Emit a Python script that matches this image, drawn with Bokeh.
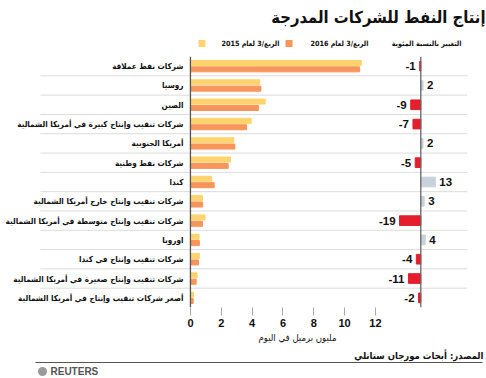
from bokeh.plotting import figure
from bokeh.layouts import column
from bokeh.models import Range1d, FixedTicker, Span, ColumnDataSource, LinearAxis
from bokeh.core.properties import value
from bokeh.embed import file_html
from bokeh.resources import INLINE

# ---------------- data ----------------
categories = [
    "شركات نفط عملاقة",
    "روسيا",
    "الصين",
    "شركات تنقيب وإنتاج كبيرة في أمريكا الشمالية",
    "أمريكا الجنوبية",
    "شركات نفط وطنية",
    "كندا",
    "شركات تنقيب وإنتاج خارج أمريكا الشمالية",
    "شركات تنقيب وإنتاج متوسطة في أمريكا الشمالية",
    "اوروبا",
    "شركات تنقيب وإنتاج في كندا",
    "شركات تنقيب وإنتاج صغيرة في أمريكا الشمالية",
    "أصغر شركات تنقيب وإنتاج في أمريكا الشمالية",
]
q3_2015 = [11.08, 4.50, 4.85, 3.94, 2.81, 2.60, 1.38, 0.78, 0.95, 0.56, 0.58, 0.43, 0.20]
q3_2016 = [10.97, 4.57, 4.42, 3.64, 2.88, 2.45, 1.54, 0.80, 0.78, 0.58, 0.52, 0.37, 0.18]
pct_change = [-1, 2, -9, -7, 2, -5, 13, 3, -19, 4, -4, -11, -2]
x_ticks = [0, 2, 4, 6, 8, 10, 12]

title_text = "إنتاج النفط للشركات المدرجة"
legend_change = "التغيير بالنسبة المئوية"
legend_2016 = "الربع/3 لعام 2016"
legend_2015 = "الربع/3 لعام 2015"
axis_title = "مليون برميل في اليوم"
source_text = "المصدر: أبحاث مورجان ستانلي"
brand_text = "REUTERS"

# ---------------- styles ----------------
YELLOW = "#FFD46E"
ORANGE = "#F7955B"
RED = "#E41E2C"
GREY = "#C7D2DB"
AR_FONT = "DejaVu Sans Condensed"
NUM_FONT = "Liberation Sans"
W = 486
RLE, PDF = "\u202B", "\u202C"   # right-to-left embedding for mixed Arabic/number text


def blank(h):
    f = figure(frame_width=W, frame_height=h, output_backend="svg", toolbar_location=None,
               x_range=Range1d(0, W), y_range=Range1d(h, 0), x_axis_location=None,
               y_axis_location=None, min_border=0, min_border_left=0, min_border_right=0,
               min_border_top=0, min_border_bottom=0, outline_line_color=None, title=None)
    f.xgrid.visible = False
    f.ygrid.visible = False
    return f


# ---------------- header (title + legend) ----------------
HH = 56
head = blank(HH)
head.text(x=[485], y=[17], text=[title_text], text_align="right", text_baseline="middle",
          text_font=value(AR_FONT), text_font_size="16.5px", text_font_style="bold",
          text_color="#111111")
head.text(x=[461, 368, 279], y=[43, 43, 43],
          text=[legend_change, RLE + legend_2016 + PDF, RLE + legend_2015 + PDF],
          text_align="right", text_baseline="middle", text_font=value(AR_FONT),
          text_font_size="7.2px", text_font_style="bold", text_color="#111111")
head.quad(left=[285, 198], right=[292, 205], top=[39.5, 39.5], bottom=[46.5, 46.5],
          fill_color=[ORANGE, YELLOW], line_color=None)

# ---------------- main chart ----------------
n = len(categories)
centers = [i + 0.5 for i in range(n)]
MH = 275
p = figure(width=W, height=MH, output_backend="svg", toolbar_location=None,
           x_range=Range1d(-12.32, 17.97), y_range=Range1d(n, 0),
           x_axis_location=None, y_axis_location=None,
           min_border_left=0, min_border_right=19, min_border_top=0,
           min_border_bottom=24, outline_line_color=None, title=None)
p.xgrid.visible = False
p.ygrid.visible = False
p.extra_x_ranges = {"chg": Range1d(-375.3, 41.7)}

# row separators (start under the labels, end past the change panel)
seps = list(range(1, n))
p.segment(x0=-9.73, x1=17.97, y0=seps, y1=seps, line_color="#DCDCDC", line_width=1)

src = ColumnDataSource(dict(
    y15=[c - 0.165 for c in centers], y16=[c + 0.165 for c in centers],
    v15=q3_2015, v16=q3_2016, cy=centers, cat=categories))
p.hbar(y="y15", left=0, right="v15", height=0.26, color=YELLOW, source=src)
p.hbar(y="y16", left=0, right="v16", height=0.26, color=ORANGE, source=src)

p.text(x=-0.45, y="cy", text="cat", source=src, text_align="right",
       text_baseline="middle", text_font=value(AR_FONT), text_font_size="8.1px",
       text_font_style="bold", text_color="#111111")

chg_src = ColumnDataSource(dict(
    cy=centers, chg=pct_change,
    col=[RED if v < 0 else GREY for v in pct_change],
    lab=[str(v) for v in pct_change],
    align=["right" if v < 0 else "left" for v in pct_change],
    off=[-4 if v < 0 else 4 for v in pct_change]))
p.hbar(y="cy", left=0, right="chg", height=0.5, color="col", source=chg_src,
       x_range_name="chg")
p.text(x="chg", y="cy", text="lab", source=chg_src, x_range_name="chg",
       text_align="align", x_offset="off", text_baseline="middle",
       text_font=value(NUM_FONT), text_font_size="11.5px", text_font_style="bold",
       text_color="#111111")

p.add_layout(Span(location=0, dimension="height", line_color="#555555", line_width=1.3))
p.add_layout(Span(location=0, dimension="height", line_color="#666666", line_width=1.3,
                  x_range_name="chg"))

ax = LinearAxis(ticker=FixedTicker(ticks=x_ticks), bounds=(0, 12))
ax.axis_line_color = None
ax.major_tick_in = 0
ax.major_tick_out = 8
ax.major_tick_line_color = "#AAAAAA"
ax.minor_tick_line_color = None
ax.major_label_standoff = 3
ax.major_label_text_font = NUM_FONT
ax.major_label_text_font_size = "11px"
ax.major_label_text_font_style = "bold"
ax.major_label_text_color = "#111111"
p.add_layout(ax, "below")

# ---------------- footer (axis unit, source, brand) ----------------
FH = 378 - HH - MH
foot = blank(FH)
foot.text(x=[336], y=[5.5], text=[axis_title], text_align="right", text_baseline="middle",
          text_font=value(AR_FONT), text_font_size="9.5px", text_font_style="normal",
          text_color="#111111")
foot.text(x=[483], y=[24], text=[source_text], text_align="right", text_baseline="middle",
          text_font=value(AR_FONT), text_font_size="9.5px", text_font_style="bold",
          text_color="#111111")
foot.segment(x0=[35], x1=[482], y0=[31], y1=[31], line_color="#555555", line_width=1)
foot.scatter(x=[42], y=[40], size=9, marker="circle", fill_color="#9A9A9A", line_color=None)
foot.text(x=[50], y=[40], text=[brand_text], text_align="left", text_baseline="middle",
          text_font=value(NUM_FONT), text_font_size="10px", text_font_style="bold",
          text_color="#555555")

layout = column(head, p, foot, spacing=0)
open("out.html", "w").write(file_html(layout, INLINE))
